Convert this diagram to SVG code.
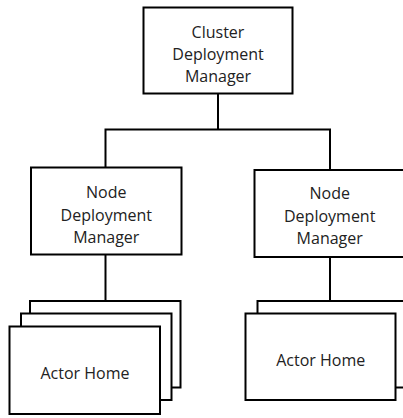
<svg xmlns="http://www.w3.org/2000/svg" width="403" height="418" viewBox="0 0 403 418">
<style>
.box{fill:#fff;stroke:#000;stroke-width:2}
.ln{fill:none;stroke:#000;stroke-width:2}
text{font-family:"Open Sans","Liberation Sans",sans-serif;font-size:16px;fill:#222;text-anchor:middle;dominant-baseline:central}
</style>
<rect width="403" height="418" fill="#fff"/>
<g id="connectors">
<polyline class="ln" points="218,93.5 218,129.5"/>
<polyline class="ln" points="105.5,167.5 105.5,129.5 330,129.5 330,170"/>
<line class="ln" x1="105.5" y1="254.5" x2="105.5" y2="301"/>
<line class="ln" x1="330" y1="257" x2="330" y2="301"/>
</g>
<g id="cluster">
<rect class="box" x="143.5" y="7.5" width="149" height="86"/>
<text x="218" y="31.5">Cluster</text>
<text x="218" y="53.5">Deployment</text>
<text x="218" y="75.5">Manager</text>
</g>
<g id="node1">
<rect class="box" x="31" y="167.5" width="150.5" height="87"/>
<text x="106.3" y="192.3">Node</text>
<text x="106.3" y="214.5">Deployment</text>
<text x="106.3" y="236.7">Manager</text>
</g>
<g id="node2">
<rect class="box" x="254.5" y="170" width="152" height="87"/>
<text x="329.7" y="193">Node</text>
<text x="329.7" y="215.5">Deployment</text>
<text x="329.7" y="238">Manager</text>
</g>
<g id="actors1">
<rect class="box" x="30" y="301" width="150.5" height="86.5"/>
<rect class="box" x="21" y="313.5" width="150.5" height="86.5"/>
<rect class="box" x="9.5" y="326.5" width="150.5" height="87.5"/>
<text x="85" y="372.5">Actor Home</text>
</g>
<g id="actors2">
<rect class="box" x="257.5" y="301" width="152" height="86.5"/>
<rect class="box" x="245.5" y="313.5" width="150" height="86.5"/>
<text x="320.7" y="360">Actor Home</text>
</g>
</svg>
